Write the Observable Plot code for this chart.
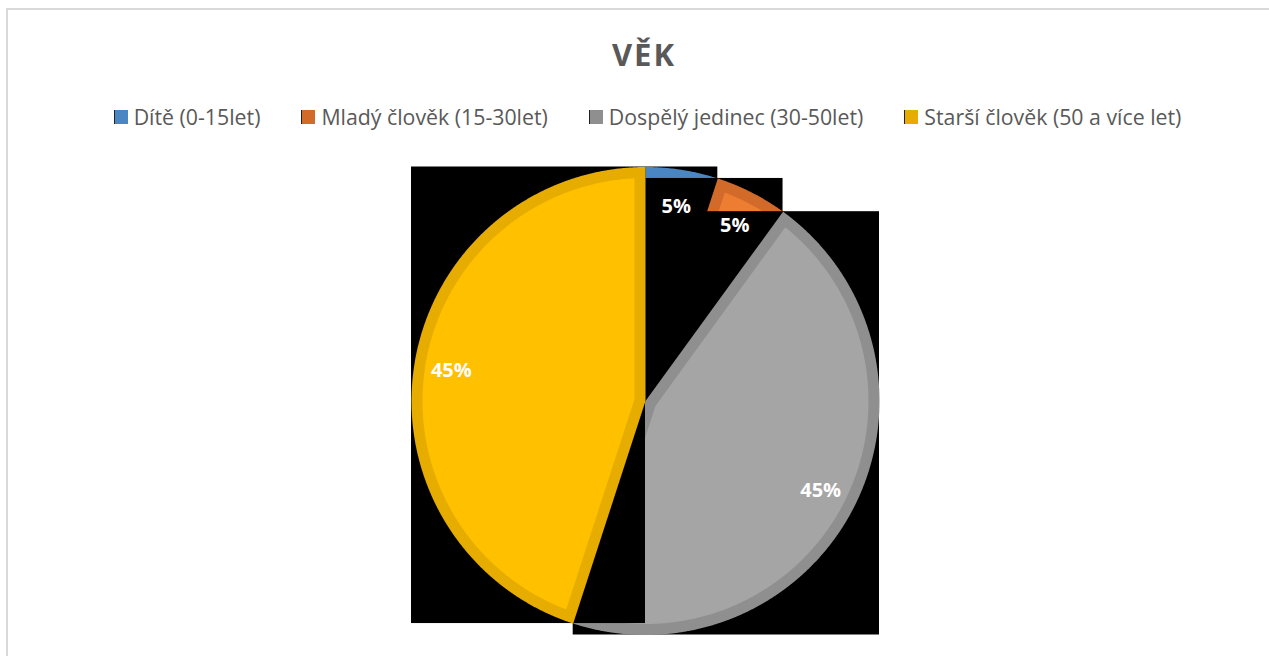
<!DOCTYPE html>
<html>
<head>
<meta charset="utf-8">
<script src="https://cdn.jsdelivr.net/npm/d3@7"></script>
<script src="https://cdn.jsdelivr.net/npm/@observablehq/plot@0.6"></script>
<style>
  body { margin: 0; background: #fff; }
  #chart { position: relative; width: 1269px; height: 656px; overflow: hidden; font-family: "Open Sans", sans-serif; }
  #frame { position: absolute; left: 6px; top: 8px; right: -20px; bottom: -20px; border-top: 2px solid #d9d9d9; border-left: 2px solid #d9d9d9; }
  #title { position: absolute; top: 39px; left: 0; width: 1288px; text-align: center; font-weight: bold; font-size: 31px; line-height: 1; color: #595959; letter-spacing: 2px; }
  #legend { position: absolute; top: 106px; left: 0; width: 1295px; display: flex; justify-content: center; gap: 41px; font-size: 21.3px; line-height: 1; color: #595959; }
  .item { display: flex; align-items: center; white-space: nowrap; flex-shrink: 0; }
  .sw { flex: 0 0 14px; width: 14px; height: 14px; margin-right: 6px; box-sizing: border-box; border-left: 1px solid #222; }
  #plot { position: absolute; left: 0; top: 0; }
</style>
</head>
<body>
<div id="chart">
  <div id="frame"></div>
  <div id="title"></div>
  <div id="legend"></div>
  <div id="plot"></div>
</div>
<script>
// ---- data ----
const title = "VĚK";
const categories = ["Dítě (0-15let)", "Mladý člověk (15-30let)", "Dospělý jedinec (30-50let)", "Starší člověk (50 a více let)"];
const values = [5, 5, 45, 45];
const labels = ["5%", "5%", "45%", "45%"];
const fillColors = ["#5B9BD5", "#ED7D31", "#A5A5A5", "#FFC000"];
const edgeColors = ["#4A86C2", "#D26A2A", "#8F8F8F", "#E6AC00"];

// ---- layout (pixels) ----
const cx = 645, cy = 400.5, R = 234;
const edge = 11 / R;        // darker inner border width, in unit radii
const labelR = 0.84;

document.getElementById("title").textContent = title;
const legend = document.getElementById("legend");
categories.forEach((c, i) => {
  const it = document.createElement("div");
  it.className = "item";
  const sw = document.createElement("div");
  sw.className = "sw";
  sw.style.background = edgeColors[i];
  const tx = document.createElement("span");
  tx.textContent = c;
  it.appendChild(sw); it.appendChild(tx);
  legend.appendChild(it);
});

// ---- geometry from data ----
const total = d3.sum(values);
let acc = 0;
const slices = values.map((v, i) => {
  const a0 = acc / total * 2 * Math.PI;
  acc += v;
  const a1 = acc / total * 2 * Math.PI;
  return {i, a0, a1, mid: (a0 + a1) / 2};
});
const pt = (a, r) => ({x: r * Math.sin(a), y: r * Math.cos(a)});
function arcPts(a0, a1, r) {
  const n = Math.max(2, Math.ceil((a1 - a0) / (Math.PI / 720)));
  return d3.range(n + 1).map(k => pt(a0 + (a1 - a0) * k / n, r));
}
const marks = [];
slices.forEach(s => {
  const outer = [{x: 0, y: 0}, ...arcPts(s.a0, s.a1, 1)];
  const box = [{
    x1: d3.min(outer, d => d.x), x2: d3.max(outer, d => d.x),
    y1: d3.min(outer, d => d.y), y2: d3.max(outer, d => d.y)
  }];
  const half = (s.a1 - s.a0) / 2;
  const apexDist = half < Math.PI / 2 ? edge / Math.sin(half) : edge;
  const ri = 1 - edge;
  const phi = Math.asin(edge / ri);
  const inner = [pt(s.mid, apexDist), ...arcPts(s.a0 + phi, s.a1 - phi, ri)];
  marks.push(
    Plot.rect(box, {x1: "x1", x2: "x2", y1: "y1", y2: "y2", fill: "black"}),
    Plot.line(outer, {x: "x", y: "y", fill: edgeColors[s.i], stroke: "none", curve: "linear-closed"}),
    Plot.line(inner, {x: "x", y: "y", fill: fillColors[s.i], stroke: "none", curve: "linear-closed"})
  );
});
const labelData = slices.map(s => ({...pt(s.mid, labelR), t: labels[s.i]}));
marks.push(Plot.text(labelData, {x: "x", y: "y", text: "t", fill: "white", fontWeight: "bold", fontSize: 20, fontFamily: "Open Sans"}));

const plot = Plot.plot({
  width: 1269, height: 656, margin: 0,
  style: {background: "transparent", overflow: "visible"},
  x: {domain: [-1, 1], range: [cx - R, cx + R], axis: null},
  y: {domain: [-1, 1], range: [cy + R, cy - R], axis: null},
  marks
});
document.getElementById("plot").appendChild(plot);
</script>
</body>
</html>
